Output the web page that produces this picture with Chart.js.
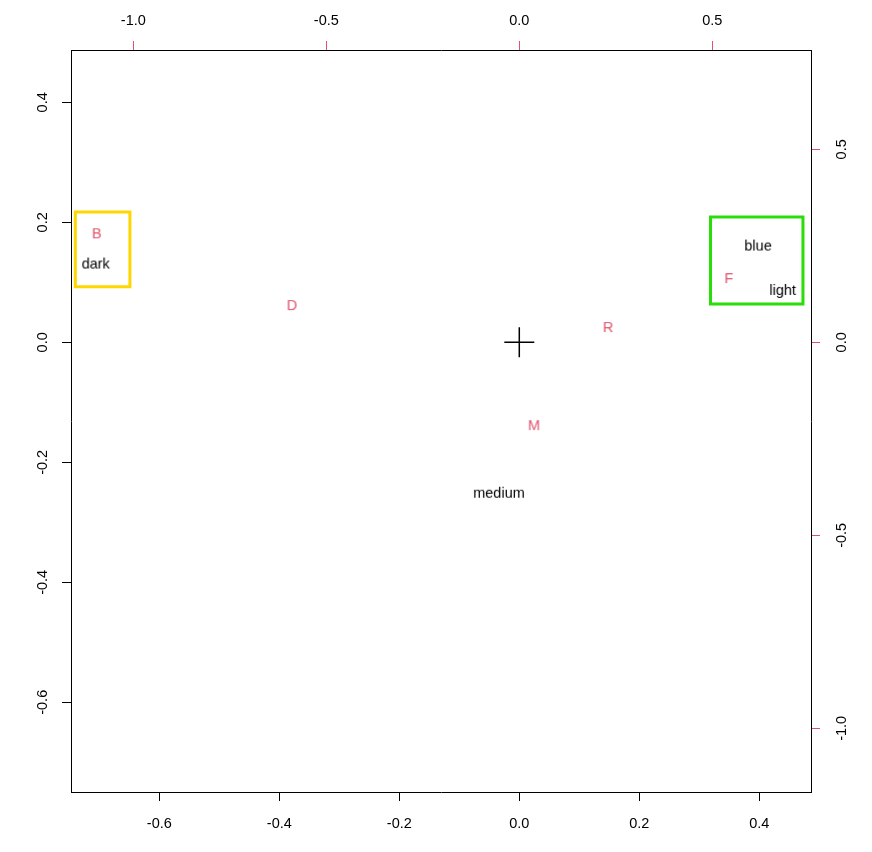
<!DOCTYPE html>
<html>
<head>
<meta charset="utf-8">
<script src="https://cdn.jsdelivr.net/npm/chart.js@4"></script>
<style>
  html, body { margin: 0; padding: 0; background: #fff; }
  #wrap { width: 872px; height: 852px; }
</style>
</head>
<body>
<div id="wrap"><canvas id="plot" width="872" height="852"></canvas></div>
<script>
// ラベルの色
const RED = '#DF536B';
const BLACK = '#000000';
const FONT = '"Liberation Sans", Arial, sans-serif';
const FONT_SIZE = 14.5;

// 列側のラベル（下・左の軸）
const colLabels = ['dark', 'blue', 'light', 'medium'];
const colX = [-0.706, 0.398, 0.439, -0.034];
const colY = [0.133, 0.163, 0.089, -0.249];

// 行側のラベル（上・右の軸、赤）
const rowLabels = ['B', 'D', 'R', 'M', 'F'];
const rowX = [-1.095, -0.589, 0.230, 0.038, 0.543];
const rowY = [0.285, 0.099, 0.042, -0.212, 0.169];

// 囲み枠（下・左の軸の座標）
const goldBoxX = [-0.740, -0.649];
const goldBoxY = [0.0927, 0.217];
const greenBoxX = [0.3187, 0.4728];
const greenBoxY = [0.0638, 0.2088];

// 軸の範囲と目盛り
const xRange = [-0.7472, 0.4862];
const yRange = [-0.7495, 0.4872];
const x2Range = [-1.1614, 0.7557];
const y2Range = [-1.165, 0.7573];
const primaryStep = 0.2;
const secondaryStep = 0.5;

// テキストを点の形として使うためのキャンバスを作る
function labelImage(text, color) {
    const c = document.createElement('canvas');
    const ctx = c.getContext('2d');
    ctx.font = FONT_SIZE + 'px ' + FONT;
    const w = Math.ceil(ctx.measureText(text).width) + 4;
    c.width = w;
    c.height = 22;
    ctx.font = FONT_SIZE + 'px ' + FONT;
    ctx.fillStyle = color;
    ctx.textAlign = 'center';
    ctx.textBaseline = 'middle';
    ctx.fillText(text, w / 2, 13);
    return c;
}

function boxPoints(xs, ys) {
    return [
        { x: xs[0], y: ys[0] },
        { x: xs[1], y: ys[0] },
        { x: xs[1], y: ys[1] },
        { x: xs[0], y: ys[1] },
        { x: xs[0], y: ys[0] }
    ];
}

function axis(position, range, step, tickColor, size, padding, extra) {
    const isVert = position === 'left' || position === 'right';
    return Object.assign({
        type: 'linear',
        position: position,
        min: range[0],
        max: range[1],
        grid: {
            drawOnChartArea: false,
            drawTicks: true,
            tickLength: 9,
            tickColor: tickColor,
            lineWidth: 1
        },
        border: { display: true, color: BLACK, width: 1 },
        ticks: Object.assign({
            stepSize: step,
            includeBounds: false,
            autoSkip: false,
            color: BLACK,
            padding: padding,
            font: { family: FONT, size: FONT_SIZE },
            callback: v => Number(v).toFixed(1)
        }, isVert ? { minRotation: 90, maxRotation: 90, crossAlign: 'center' } : { maxRotation: 0 }),
        afterFit: s => {
            if (isVert) s.width = size; else s.height = size;
        }
    }, extra || {});
}

const colPoints = colLabels.map((t, i) => ({ x: colX[i], y: colY[i] }));
const rowPoints = rowLabels.map((t, i) => ({ x: rowX[i], y: rowY[i] }));

new Chart(document.getElementById('plot'), {
    type: 'scatter',
    data: {
        datasets: [
            {
                data: boxPoints(goldBoxX, goldBoxY),
                showLine: true,
                borderColor: '#FFD700',
                borderWidth: 3,
                borderCapStyle: 'square',
                pointRadius: 0,
                xAxisID: 'x',
                yAxisID: 'y'
            },
            {
                data: boxPoints(greenBoxX, greenBoxY),
                showLine: true,
                borderColor: '#28DD08',
                borderWidth: 3,
                borderCapStyle: 'square',
                pointRadius: 0,
                xAxisID: 'x',
                yAxisID: 'y'
            },
            {
                data: [{ x: 0, y: 0 }],
                pointStyle: 'cross',
                pointRadius: 15,
                borderColor: BLACK,
                borderWidth: 1.5,
                xAxisID: 'x',
                yAxisID: 'y'
            },
            {
                data: colPoints,
                pointStyle: colLabels.map(t => labelImage(t, BLACK)),
                xAxisID: 'x',
                yAxisID: 'y'
            },
            {
                data: rowPoints,
                pointStyle: rowLabels.map(t => labelImage(t, RED)),
                xAxisID: 'x2',
                yAxisID: 'y2'
            }
        ]
    },
    options: {
        responsive: false,
        animation: false,
        events: [],
        layout: { padding: 0 },
        plugins: {
            legend: { display: false },
            tooltip: { enabled: false }
        },
        scales: {
            x: axis('bottom', xRange, primaryStep, BLACK, 60, 14),
            y: axis('left', yRange, primaryStep, BLACK, 71, 7),
            x2: axis('top', x2Range, secondaryStep, RED, 50, 11),
            y2: axis('right', y2Range, secondaryStep, RED, 61, 10)
        }
    }
});
</script>
</body>
</html>
